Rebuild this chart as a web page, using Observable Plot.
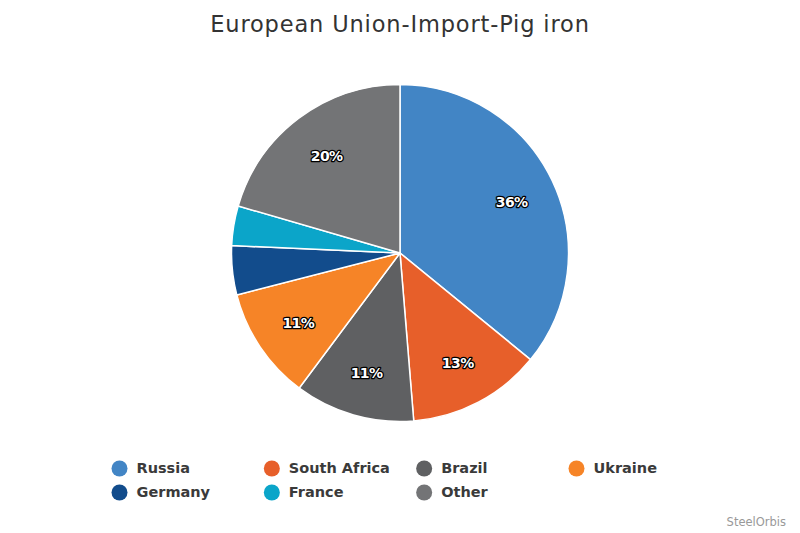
<!DOCTYPE html>
<html>
<head>
<meta charset="utf-8">
<script src="https://cdn.jsdelivr.net/npm/d3@7"></script>
<script src="https://cdn.jsdelivr.net/npm/@observablehq/plot@0.6"></script>
<style>
  html, body { margin: 0; padding: 0; background: #fff; }
  body { width: 800px; height: 533px; position: relative; overflow: hidden; font-family: "DejaVu Sans", sans-serif; }
  #title { height: 50px; padding-top: 7px; box-sizing: border-box; text-align: center; font-size: 22.5px; letter-spacing: 0.85px; line-height: 34px; color: #333; }
  #credit { position: absolute; right: 14px; top: 514px; font-size: 11.5px; line-height: 16px; color: #999; }
  #pie text { letter-spacing: -0.6px; }
  svg { display: block; }
</style>
</head>
<body>
<div id="title">European Union-Import-Pig iron</div>
<div id="pie"></div>
<div id="legend"></div>
<div id="credit">SteelOrbis</div>
<script>
const categories = ["Russia", "South Africa", "Brazil", "Ukraine", "Germany", "France", "Other"];
const shares = [35.9, 12.8, 11.5, 10.8, 4.7, 3.8, 20.5];
const sliceLabels = ["36%", "13%", "11%", "11%", "", "", "20%"];
const colors = ["#4285c5", "#e75f2a", "#5f6062", "#f68427", "#124c8c", "#0ba5c9", "#737476"];
const legendColumns = [0, 1, 2, 3, 0, 1, 2];
const legendRows = [0, 0, 0, 0, 1, 1, 1];

const arcs = d3.pie().sort(null).value((d) => d)(shares);
const slices = categories.map((name, i) => ({
  name,
  arc: arcs[i],
  label: sliceLabels[i],
  lx: 0.73 * Math.sin((arcs[i].startAngle + arcs[i].endAngle) / 2),
  ly: 0.73 * Math.cos((arcs[i].startAngle + arcs[i].endAngle) / 2)
}));

const colorScale = { type: "ordinal", domain: categories, range: colors };

function drawWedges(index, scales, values) {
  const radius = Math.abs(scales.x(1) - scales.x(0));
  const arc = d3.arc().innerRadius(0).outerRadius(radius);
  const g = d3.create("svg:g");
  for (const i of index) {
    g.append("path")
      .attr("d", arc(slices[i].arc))
      .attr("transform", `translate(${values.x[i]},${values.y[i]})`)
      .attr("fill", values.fill[i])
      .attr("stroke", "#fff")
      .attr("stroke-width", 1.5)
      .attr("stroke-linejoin", "round");
  }
  return g.node();
}

const pie = Plot.plot({
  width: 800,
  height: 390,
  margin: 0,
  x: { domain: [-1, 1], range: [231.5, 568.5], axis: null },
  y: { domain: [-1, 1], range: [371.5, 34.5], axis: null },
  color: colorScale,
  marks: [
    Plot.dot(slices, { x: () => 0, y: () => 0, fill: "name", render: drawWedges }),
    Plot.text(slices.filter((d) => d.label), {
      x: "lx",
      y: "ly",
      dy: 1.5,
      text: "label",
      fill: "#fff",
      stroke: "#000",
      strokeWidth: 2.5,
      fontSize: 14,
      fontWeight: "bold",
      fontFamily: "DejaVu Sans"
    })
  ]
});
document.getElementById("pie").append(pie);

const legendItems = categories.map((name, i) => ({ name, col: legendColumns[i], row: legendRows[i] }));
const legend = Plot.plot({
  width: 800,
  height: 93,
  margin: 0,
  x: { type: "linear", domain: [0, 3], range: [119, 576], axis: null },
  y: { type: "linear", domain: [0, 1], range: [28, 52], axis: null },
  color: colorScale,
  marks: [
    Plot.dot(legendItems, { x: "col", y: "row", r: 8, fill: "name" }),
    Plot.text(legendItems, {
      x: "col",
      y: "row",
      text: "name",
      dx: 17,
      textAnchor: "start",
      fill: "#3a3a3a",
      fontSize: 14.5,
      fontWeight: "bold",
      fontFamily: "DejaVu Sans"
    })
  ]
});
document.getElementById("legend").append(legend);
</script>
</body>
</html>
